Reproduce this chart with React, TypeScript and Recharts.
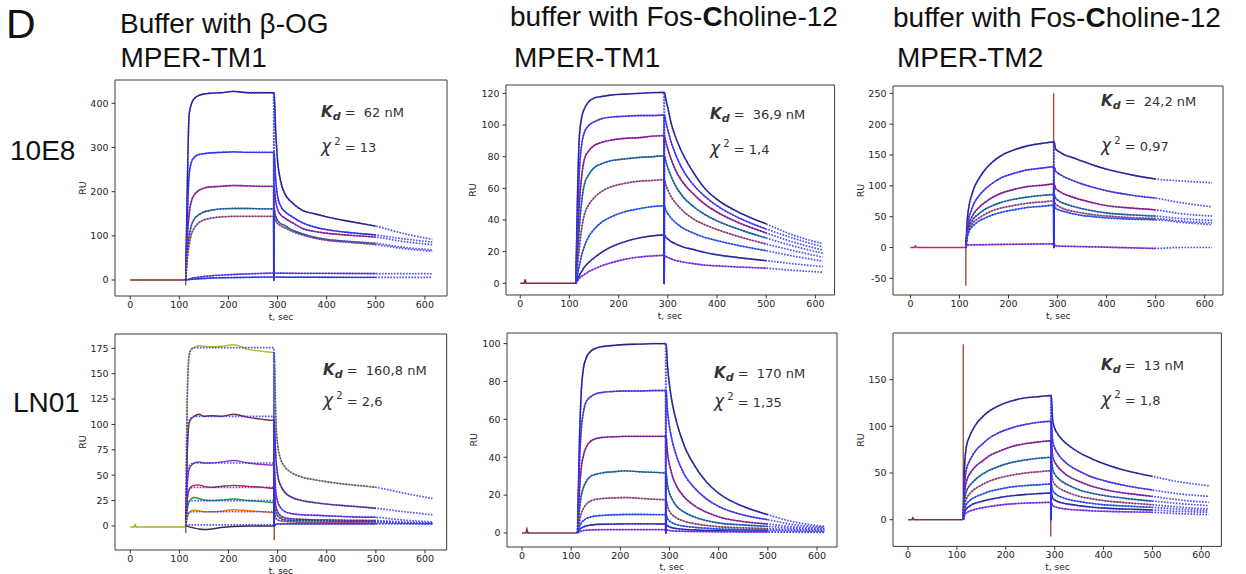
import { LineChart, Line, XAxis, YAxis, ReferenceArea } from 'recharts';

// time grids (s) shared by every sensorgram
const timeBase = [0, 8, 10, 12, 110, 112.5];
const timeAssoc = [113, 116, 120, 125, 130, 140, 150, 165, 185, 210, 240, 270, 292];
const timeDissoc = [293, 296, 300, 306, 315, 330, 350, 375, 400, 450, 500];
const timeTail = [550, 615];
const dropTime = 292.5;

const xTicks = [0, 100, 200, 300, 400, 500, 600];

// 10E8, buffer with b-OG, MPER-TM1
const p1Base = [0, 0, 0, 0, 0, 0];
const p1Assoc = [
  [0, 200, 375, 400, 410, 418, 421, 423, 424, 427, 424, 424, 424],
  [0, 130, 240, 268, 277, 284, 286, 288, 289, 290, 289, 289, 289],
  [0, 90, 150, 180, 192, 203, 208, 211, 212, 214, 213, 212, 212],
  [0, 60, 100, 125, 137, 148, 154, 158, 161, 162, 162, 161, 161],
  [0, 45, 80, 105, 117, 130, 136, 140, 143, 144, 144, 144, 144],
  [0, 1, 2, 3.5, 5, 6.5, 8, 9.5, 11, 12.5, 14, 15, 15.5],
  [0, 0.5, 1, 1.5, 2, 3, 3.5, 4.5, 5, 5.5, 6, 6.5, 6.5],
];
const p1Dissoc = [
  [424, 340, 270, 225, 195, 175, 158, 150, 143, 132, 122],
  [289, 230, 190, 168, 155, 143, 130, 120, 114, 107, 102],
  [212, 180, 160, 148, 140, 130, 117, 110, 106, 101, 97],
  [161, 145, 135, 128, 123, 113, 105, 97, 92, 87, 83],
  [144, 135, 128, 123, 118, 110, 102, 95, 90, 85, 80],
  [15.5, 15.5, 15.4, 15.4, 15.3, 15.2, 15.1, 15, 15, 14.8, 14.6],
  [6.5, 6.5, 6.4, 6.4, 6.3, 6.3, 6.2, 6.2, 6.1, 6, 6],
];
const p1Tail = [[107, 92], [94, 86], [88, 80], [75, 68], [72, 65], [14.4, 14.2], [5.9, 5.8]];
const p1Spikes = [[113, -12]];

// 10E8, Fos-Choline-12, MPER-TM1
const p2Base = [0, 0, 2.5, 0, 0, 0];
const p2Assoc = [
  [0, 50, 92, 105, 110, 115, 117, 118, 119, 119.5, 120, 120.5, 120.6],
  [0, 35, 70, 88, 95, 100, 102, 104, 105, 105.5, 106, 106, 106.3],
  [0, 25, 50, 68, 78, 84, 87, 89, 90.5, 91.5, 92, 93, 93.3],
  [0, 15, 35, 52, 62, 69, 73, 75.5, 77.5, 78.5, 79.5, 80, 80.6],
  [0, 10, 22, 35, 43, 50, 54, 58, 61, 63, 64.5, 65, 65.5],
  [0, 5, 11, 18, 23, 30, 34, 38.5, 42, 45, 47, 48.5, 49],
  [0, 2, 5, 7.5, 10, 13.5, 16, 19.5, 23, 26, 28.5, 30, 30.5],
  [0, 1.5, 3, 4.5, 5.5, 7.5, 9, 11, 13, 15, 16.5, 17.3, 17.7],
];
const p2Dissoc = [
  [120.6, 116, 111, 102, 93, 82, 71, 60, 53, 44, 37.5],
  [106.3, 102, 97, 90, 82, 72, 63, 55, 49, 40.5, 34.3],
  [93.3, 89, 85, 79, 72, 64, 57, 50, 45, 37.5, 31.8],
  [80.6, 77, 73, 68, 62, 55, 49, 43.5, 39.5, 33.5, 28.6],
  [65.5, 62, 59, 55, 51, 46, 41, 37, 34, 29, 24.8],
  [49, 46, 44, 41.5, 38.5, 35, 32, 29, 27, 23.5, 20.6],
  [30.5, 29, 28, 26.5, 25, 23, 21.5, 19.5, 18, 16, 14.3],
  [17.7, 17, 16.3, 15.5, 14.5, 13.5, 12.5, 11.5, 11, 10.2, 9.5],
];
const p2Tail = [[31, 25], [29, 23], [26.5, 21], [24, 19], [21, 16.5], [17.5, 14], [12.5, 10.5], [8.3, 7]];
const p2Spikes: number[][] = [];

// 10E8, Fos-Choline-12, MPER-TM2
const p3Base = [0, 0, 2.5, 0, 0, 0];
const p3Assoc = [
  [0, 45, 70, 85, 97, 112, 124, 137, 149, 158, 165, 169, 171],
  [0, 32, 50, 62, 72, 84, 93, 103, 113, 120, 126, 129, 131],
  [0, 25, 40, 49, 56, 65, 72, 80, 88, 94, 99, 101, 103],
  [0, 22, 35, 42, 48, 55, 61, 67, 73, 78, 82, 84.5, 86],
  [0, 20, 31, 37, 42, 48, 53, 59, 64, 68, 72, 74, 75.7],
  [0, 17, 27, 33, 37, 43, 47, 52, 57, 61, 65, 67, 68.6],
  [0, 4, 4.2, 4.3, 4.4, 4.5, 4.6, 4.8, 5, 5.2, 5.5, 5.8, 6],
];
const p3Dissoc = [
  [171, 160, 157, 154, 150, 146, 140, 133, 127, 118, 111],
  [131, 124, 121, 118, 114, 109, 103, 97, 92, 85, 80],
  [103, 96, 93, 90, 86, 82, 77, 72, 68, 64, 61],
  [86, 80, 77, 74, 71, 67, 63, 59, 56, 53, 51],
  [75.7, 70, 68, 65, 62, 59, 56, 53, 51, 48.5, 47],
  [68.6, 64, 62, 60, 58, 55, 52, 50, 48, 46, 45],
  [6, 3, 2.5, 2.2, 2, 1.8, 1.5, 1, 0.5, -0.5, -1.5],
];
const p3Tail = [[108, 105], [73, 66], [55, 51], [47, 44], [43, 40], [41, 37], [0, 0]];
const p3Spikes = [[113, -62], [292, 250]];

// LN01, buffer with b-OG, MPER-TM1
const p4Base = [-1, -1, 1, -1, -1, -1];
const p4Assoc = [
  [0, 120, 170, 175, 176, 177.5, 177, 176.5, 177, 178.5, 174, 172, 171],
  [0, 70, 102, 106, 108, 110, 108, 108.5, 108, 110, 107, 105, 104],
  [0, 40, 56, 60, 62, 63, 62, 62, 63, 64.5, 62, 60.5, 60],
  [0, 25, 36, 39, 40, 40.5, 39, 38, 39, 40, 39, 38, 37],
  [0, 16, 24, 27, 28, 27, 25.5, 25, 25.5, 26.5, 25, 24, 23],
  [0, 9, 13, 15, 15.5, 15, 14, 14, 14.5, 16, 15, 14, 13],
  [0, 0, -1, -1.5, -2, -3, -3.5, -3, -1.5, -0.5, 0, 0, 0],
];
const p4FitAssoc = [
  [0, 130, 168, 174, 175.5, 175.6, 175.6, 175.6, 175.6, 175.6, 175.6, 175.6, 175.6],
  [0, 80, 104, 107, 108, 108, 108, 108, 108, 108, 108, 108, 108],
  [0, 45, 59, 61.5, 62, 62, 62, 62, 62, 62, 62, 62, 62],
  [0, 28, 36, 37.8, 38, 38, 38, 38, 38, 38, 38, 38, 38],
  [0, 18, 24, 24.8, 25, 25, 25, 25, 25, 25, 25, 25, 25],
  [0, 10, 13.5, 14, 14, 14, 14, 14, 14, 14, 14, 14, 14],
  [0, 1, 1, 1, 1, 1, 1, 1, 1, 1, 1, 1, 1],
];
const p4Dissoc = [
  [171, 110, 80, 66, 58, 52, 48, 45.5, 43.5, 40.5, 38],
  [104, 70, 50, 40, 33, 28, 25, 23, 21.5, 19.5, 17.4],
  [60, 35, 24, 18, 14, 12, 11, 10.5, 10, 9, 8.5],
  [37, 20, 14, 10, 8, 7, 6.5, 6, 6, 5.5, 5.3],
  [23, 14, 10, 7.5, 6, 5.5, 5, 5, 4.8, 4.5, 4.3],
  [13, 8, 6, 5, 4.5, 4, 3.5, 3.5, 3.3, 3.1, 3],
  [0, 1.5, 2, 2, 2, 2, 2, 2, 2, 2, 2],
];
const p4Tail = [[33, 27], [14.5, 11], [6, 4], [4, 3], [3, 2.5], [2.5, 2], [2, 2]];
const p4Spikes = [[113, -7], [293, -14]];

// LN01, Fos-Choline-12, MPER-TM1
const p5Base = [0, 0, 2, 0, 0, 0];
const p5Assoc = [
  [0, 40, 72, 87, 92, 96, 97.5, 98.5, 99, 99.5, 99.7, 100, 100],
  [0, 30, 53, 64, 69, 72, 73.5, 74.3, 74.7, 75, 75, 75.2, 75.2],
  [0, 18, 33, 41, 45, 48.5, 49.8, 50.5, 50.8, 51, 51, 51, 51],
  [0, 10, 19, 24, 27, 30, 31, 31.8, 32.3, 32.8, 32.3, 32, 31.7],
  [0, 5, 10, 13, 15, 17, 17.8, 18.2, 18.5, 18.7, 18.3, 17.8, 17.6],
  [0, 3, 5, 6.5, 7.5, 8.5, 9, 9.3, 9.6, 9.8, 9.8, 9.7, 9.7],
  [0, 1.5, 2.5, 3.2, 3.7, 4.2, 4.5, 4.6, 4.7, 4.8, 4.8, 4.8, 4.75],
  [0, 0.5, 1, 1.3, 1.5, 1.6, 1.7, 1.8, 1.8, 1.8, 1.8, 1.8, 1.8],
];
const p5Dissoc = [
  [100, 88, 78, 68, 58, 46, 36, 27, 21, 14, 9.7],
  [75, 64, 56, 48, 40, 31, 24, 18, 14, 9.5, 7],
  [51, 42, 36, 30, 24.5, 19, 14.5, 11, 8.5, 6, 4.75],
  [31.7, 25, 21, 17.5, 14, 11, 8.5, 6.5, 5.3, 4.2, 3.5],
  [17.6, 14, 11.5, 9.5, 7.8, 6.2, 5, 4, 3.3, 2.7, 2.3],
  [9.7, 7.5, 6.3, 5.3, 4.4, 3.6, 3, 2.5, 2.1, 1.8, 1.6],
  [4.75, 3.8, 3.2, 2.7, 2.3, 1.9, 1.6, 1.3, 1.2, 1, 0.9],
  [1.8, 1.5, 1.3, 1.1, 1, 0.9, 0.8, 0.7, 0.6, 0.55, 0.5],
];
const p5Tail = [[6, 3.5], [4.5, 3], [3.3, 2.5], [2.5, 2], [1.8, 1.5], [1.3, 1], [0.7, 0.6], [0.4, 0.3]];
const p5Spikes: number[][] = [];

// LN01, Fos-Choline-12, MPER-TM2
const p6Base = [0, 0, 2, 0, 0, 0];
const p6Assoc = [
  [0, 60, 80, 88, 94, 103, 109, 116, 122, 127, 130.5, 132, 133],
  [0, 40, 55, 62, 67, 75, 80, 87, 93, 98, 102, 104.5, 105.4],
  [0, 30, 42, 48, 52, 58, 62, 68, 73, 78, 81.5, 83.5, 84.6],
  [0, 22, 31, 36, 39, 44, 48, 52.5, 57, 61, 64, 66, 66.8],
  [0, 16, 23, 27, 30, 34, 37, 41, 44.5, 47.5, 50, 51.5, 52.5],
  [0, 12, 17, 20, 22, 25, 27, 30, 32.5, 35, 36.5, 37.5, 38.2],
  [0, 8, 12, 14, 16, 18, 19.5, 21.5, 23.5, 25.5, 27, 28, 28.6],
  [0, 5, 7.5, 9, 10, 11.5, 12.5, 14, 15.5, 16.8, 17.8, 18.3, 18.6],
];
const p6Dissoc = [
  [133, 106, 98, 92, 86, 79, 72, 65.5, 60, 52, 46.4],
  [105.4, 84, 77, 71, 65, 58, 52, 46, 42, 36, 31.8],
  [84.6, 68, 62, 57, 52, 46, 41, 36, 32.5, 28, 25],
  [66.8, 54, 49, 45, 41, 36.5, 32, 28.5, 26, 22.5, 20],
  [52.5, 42, 38, 35, 32, 28.5, 25, 22.5, 20.5, 18, 16],
  [38.2, 31, 28.5, 26, 24, 21.5, 19.5, 17.5, 16, 14.5, 13.2],
  [28.6, 23, 21, 19.5, 18, 16.5, 15, 13.5, 12.5, 11.3, 10.4],
  [18.6, 15, 14, 13, 12, 11, 10.3, 9.5, 9, 8.4, 7.9],
];
const p6Tail = [[41, 36.4], [28, 25], [21.5, 18.6], [17.5, 15], [13.7, 11.4], [11.4, 9.6], [9, 7.9], [6.6, 5.4]];
const p6Spikes = [[113, 188], [292, -18]];

const COL8 = ['#1c1c50', '#5a3ce0', '#c8163e', '#138a5a', '#f0742a', '#2a78e0', '#24245e', '#c840d8'];
const FIT = '#2f2ff5';
const SPIKE = '#a04a3a';

interface PanelCfg {
  left: number; top: number; w: number; h: number;
  xd: [number, number]; yd: [number, number]; yTicks: number[];
  base: number[]; baseColor: string;
  assoc: number[][]; dissoc: number[][]; tail: number[][]; fitAssoc?: number[][];
  spikes: number[][]; colors: string[];
  kd: string; chi: string; kdAt: [number, number]; chiAt: [number, number];
}

const PANELS: PanelCfg[] = [
  { left: 115, top: 80, w: 332, h: 216, xd: [-31, 645], yd: [-36.2, 452.8], yTicks: [0, 100, 200, 300, 400],
    base: p1Base, baseColor: '#7a2a2a', assoc: p1Assoc, dissoc: p1Dissoc, tail: p1Tail, spikes: p1Spikes,
    colors: ['#1c1c50', '#3535e0', '#d01c3c', '#178a4a', '#f07a18', '#8040d0', '#2040e0'],
    kd: '62 nM', chi: '13', kdAt: [321, 117], chiAt: [321, 152] },
  { left: 505.7, top: 85, w: 328.6, h: 210, xd: [-29, 639], yd: [-7.4, 125.3], yTicks: [0, 20, 40, 60, 80, 100, 120],
    base: p2Base, baseColor: '#7a2a3a', assoc: p2Assoc, dissoc: p2Dissoc, tail: p2Tail, spikes: p2Spikes,
    colors: COL8, kd: '36,9 nM', chi: '1,4', kdAt: [710, 119], chiAt: [710, 154] },
  { left: 893.3, top: 86, w: 330, h: 209, xd: [-35.5, 637.3], yd: [-77, 261.9], yTicks: [-50, 0, 50, 100, 150, 200, 250],
    base: p3Base, baseColor: '#d0206a', assoc: p3Assoc, dissoc: p3Dissoc, tail: p3Tail, spikes: p3Spikes,
    colors: ['#1c1c50', '#5540e0', '#c8163e', '#138a5a', '#f0742a', '#2a78e0', '#d03cb0'],
    kd: '24,2 nM', chi: '0,97', kdAt: [1101, 106], chiAt: [1101, 151] },
  { left: 115, top: 334, w: 331.7, h: 216, xd: [-31.1, 644.1], yd: [-23.7, 189.1], yTicks: [0, 25, 50, 75, 100, 125, 150, 175],
    base: p4Base, baseColor: '#a8b020', assoc: p4Assoc, dissoc: p4Dissoc, tail: p4Tail, fitAssoc: p4FitAssoc, spikes: p4Spikes,
    colors: ['#b8c020', '#7a2a3a', '#8a3ad8', '#d01c30', '#18a03a', '#f07a18', '#3a2a4a'],
    kd: '160,8 nM', chi: '2,6', kdAt: [323, 375], chiAt: [323, 406] },
  { left: 506.7, top: 332.7, w: 330, h: 214, xd: [-30.5, 640.6], yd: [-7.4, 105.6], yTicks: [0, 20, 40, 60, 80, 100],
    base: p5Base, baseColor: '#7a3a3a', assoc: p5Assoc, dissoc: p5Dissoc, tail: p5Tail, spikes: p5Spikes,
    colors: COL8, kd: '170 nM', chi: '1,35', kdAt: [714, 378], chiAt: [714, 407] },
  { left: 893.3, top: 333.3, w: 328.4, h: 213.4, xd: [-30.7, 641], yd: [-28.6, 200], yTicks: [0, 50, 100, 150],
    base: p6Base, baseColor: '#7a3a3a', assoc: p6Assoc, dissoc: p6Dissoc, tail: p6Tail, spikes: p6Spikes,
    colors: COL8, kd: '13 nM', chi: '1,8', kdAt: [1101, 370], chiAt: [1101, 405] },
];

const series = (times: number[], vals: number[]) => times.map((t, i) => ({ t, v: vals[i] }));

const tickStyle = { fontSize: 9.5, fill: '#222', fontFamily: 'DejaVu Sans' };
const YW = 45;
const XH = 30;

function Panel({ p }: { p: PanelCfg }) {
  const exp = p.assoc.map((a, i) => [...series(timeAssoc, a), ...series(timeDissoc, p.dissoc[i])]);
  const fits = p.assoc.map((a, i) => [
    ...series(timeAssoc, (p.fitAssoc ?? p.assoc)[i]),
    { t: dropTime, v: 0 },
    ...series(timeDissoc, p.dissoc[i]),
    ...series(timeTail, p.tail[i]),
  ]);
  return (
    <div style={{ position: 'absolute', left: p.left - YW, top: p.top - 10 }}>
      <LineChart width={p.w + YW + 10} height={p.h + 10 + XH} margin={{ top: 10, right: 10, bottom: 0, left: 0 }}>
        <XAxis type="number" dataKey="t" domain={p.xd} ticks={xTicks} allowDataOverflow height={XH}
          axisLine={false} tickSize={3.5} tickMargin={1.5} tick={tickStyle} tickLine={{ stroke: '#333' }} />
        <YAxis type="number" dataKey="v" domain={p.yd} ticks={p.yTicks} allowDataOverflow width={YW}
          axisLine={false} tickSize={3.5} tickMargin={3} tick={tickStyle} tickLine={{ stroke: '#333' }} />
        <ReferenceArea x1={p.xd[0]} x2={p.xd[1]} y1={p.yd[0]} y2={p.yd[1]} fill="none" stroke="#3a3a3a" strokeWidth={1} ifOverflow="visible" />
        <Line data={series(timeBase, p.base)} dataKey="v" stroke={p.baseColor} strokeWidth={1.6} dot={false} activeDot={false} isAnimationActive={false} />
        {p.spikes.map((s, i) => (
          <Line key={`s${i}`} data={[{ t: s[0], v: 0 }, { t: s[0] + 0.01, v: s[1] }]} dataKey="v" type="linear"
            stroke={SPIKE} strokeWidth={1.4} dot={false} activeDot={false} isAnimationActive={false} />
        ))}
        {exp.map((d, i) => (
          <Line key={`e${i}`} data={d} dataKey="v" type="monotone" stroke={p.colors[i]} strokeWidth={1.4}
            dot={false} activeDot={false} isAnimationActive={false} />
        ))}
        {fits.map((d, i) => (
          <Line key={`f${i}`} data={d} dataKey="v" type="monotone" stroke={FIT} strokeWidth={1.7} strokeDasharray="1.6 1.4"
            strokeOpacity={0.85} dot={false} activeDot={false} isAnimationActive={false} />
        ))}
      </LineChart>
    </div>
  );
}

const TITLE = { fontFamily: 'Liberation Sans, Arial, sans-serif', fill: '#111' };
const ANN = { fontFamily: 'DejaVu Sans, sans-serif' };

function Annotations({ p }: { p: PanelCfg }) {
  return (
    <g>
      <text x={p.kdAt[0]} y={p.kdAt[1]} style={ANN} fontSize={13} fill="#333">
        <tspan fontStyle="italic" fontWeight="bold" fontSize={15}>K</tspan>
        <tspan fontStyle="italic" fontWeight="bold" fontSize={11} dy={3}>d</tspan>
        <tspan dy={-3} xmlSpace="preserve"> =  {p.kd}</tspan>
      </text>
      <text x={p.chiAt[0]} y={p.chiAt[1]} style={ANN} fontSize={13} fill="#333">
        <tspan fontStyle="italic" fontSize={17}>χ</tspan>
        <tspan fontSize={10} dy={-7}> 2</tspan>
        <tspan dy={7}>  = {p.chi}</tspan>
      </text>
      <text x={p.left - 32} y={p.top + p.h / 2} transform={`rotate(-90 ${p.left - 32} ${p.top + p.h / 2})`}
        textAnchor="middle" dominantBaseline="middle" style={ANN} fontSize={9.5} fill="#222">RU</text>
      <text x={p.left + p.w / 2} y={p.top + p.h + 23.5} textAnchor="middle" style={ANN} fontSize={9} fill="#222">t, sec</text>
    </g>
  );
}

export default function App() {
  return (
    <div style={{ position: 'absolute', left: 0, top: 0, width: 1246, height: 574, background: '#fff', overflow: 'hidden' }}>
      {PANELS.map((p, i) => <Panel key={i} p={p} />)}
      <svg width={1246} height={574} style={{ position: 'absolute', left: 0, top: 0, pointerEvents: 'none' }}>
        <text x={6} y={38} style={TITLE} fontSize={41}>D</text>
        <text x={120} y={33} style={TITLE} fontSize={28}>Buffer with β-OG</text>
        <text x={120.5} y={67} style={TITLE} fontSize={28}>MPER-TM1</text>
        <text x={510} y={26} style={TITLE} fontSize={28}>buffer with Fos-<tspan fontWeight="bold">C</tspan>holine-12</text>
        <text x={514} y={67} style={TITLE} fontSize={28}>MPER-TM1</text>
        <text x={893} y={27} style={TITLE} fontSize={28}>buffer with Fos-<tspan fontWeight="bold">C</tspan>holine-12</text>
        <text x={897} y={67} style={TITLE} fontSize={28}>MPER-TM2</text>
        <text x={10} y={160} style={TITLE} fontSize={28}>10E8</text>
        <text x={13} y={412} style={TITLE} fontSize={28}>LN01</text>
        {PANELS.map((p, i) => <Annotations key={i} p={p} />)}
      </svg>
    </div>
  );
}
